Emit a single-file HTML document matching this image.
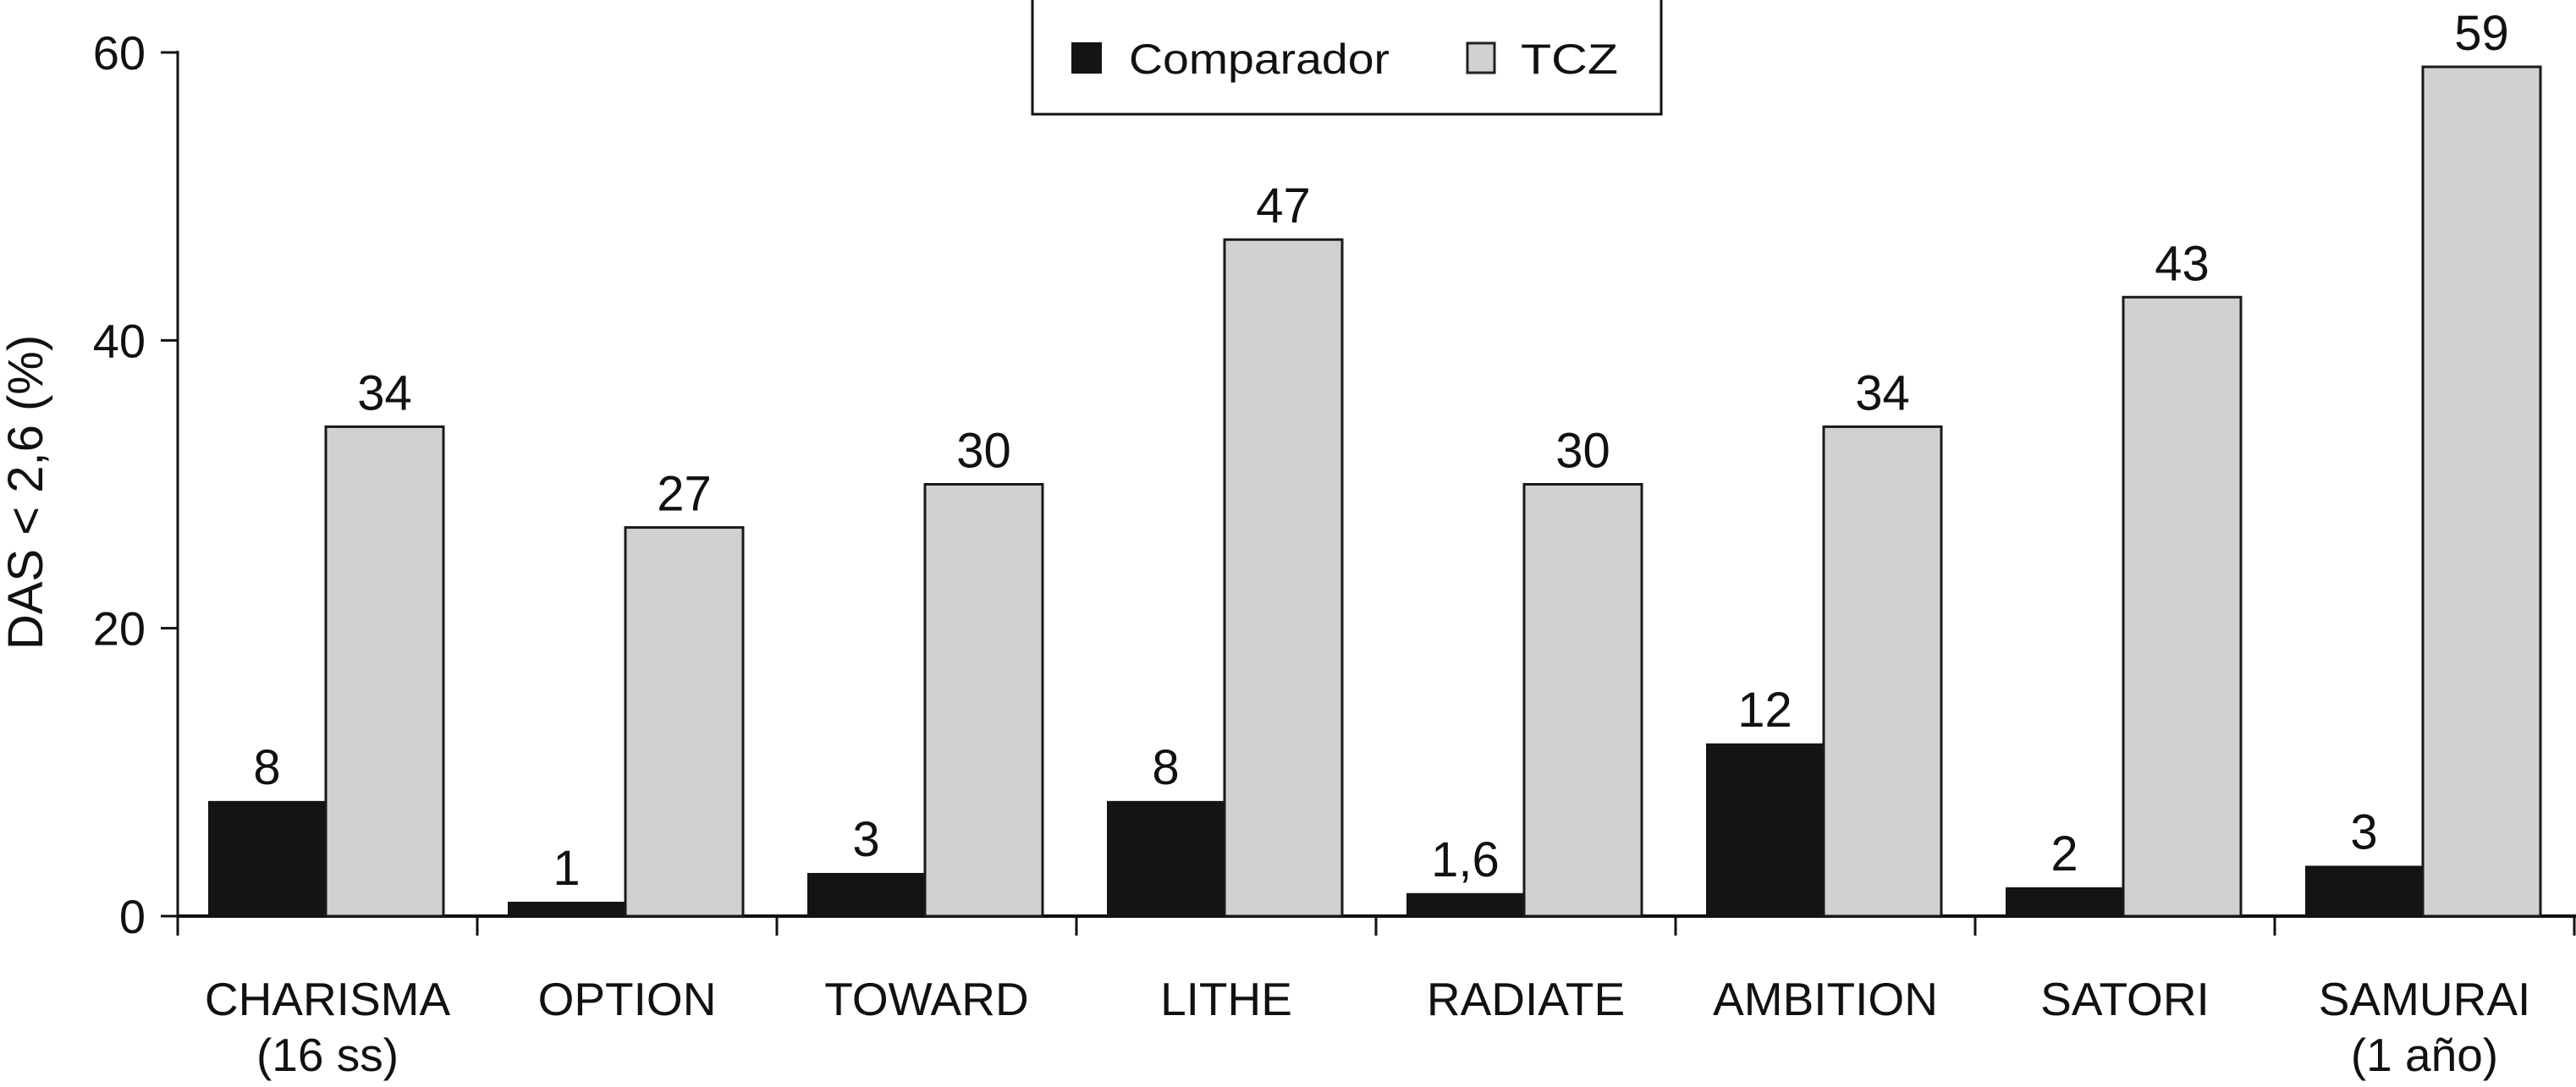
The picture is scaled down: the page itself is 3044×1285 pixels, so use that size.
<!DOCTYPE html>
<html><head><meta charset="utf-8"><style>
html,body{margin:0;padding:0;background:#fff;}
svg{display:block;font-family:"Liberation Sans",Arial,sans-serif;}
</style></head><body>
<svg id="chart" width="3044" height="1285" viewBox="0 0 3044 1285" xmlns="http://www.w3.org/2000/svg">
<g id="axes"></g>
<g id="bars"></g>
<text transform="translate(50,582) rotate(-90)" text-anchor="middle" font-size="58" fill="#111">DAS &lt; 2,6 (%)</text>
<g>
<rect x="1220" y="-2" width="743" height="137" fill="#fff" stroke="#111" stroke-width="3"/>
<rect x="1266" y="50" width="36" height="37" fill="#141414"/>
<text x="1334" y="87" font-size="50" fill="#111" textLength="308" lengthAdjust="spacingAndGlyphs">Comparador</text>
<rect x="1734" y="51" width="32" height="35" fill="#d1d1d1" stroke="#222" stroke-width="3"/>
<text x="1797" y="87" font-size="50" fill="#111" textLength="115" lengthAdjust="spacingAndGlyphs">TCZ</text>
</g>
</svg>
<script>
const categories = ["CHARISMA|(16 ss)","OPTION","TOWARD","LITHE","RADIATE","AMBITION","SATORI","SAMURAI|(1 año)"];
const comparador = [8, 1, 3, 8, 1.6, 12, 2, 3.5];
const tcz = [34, 27, 30, 47, 30, 34, 43, 59];
const comparadorLabels = ["8","1","3","8","1,6","12","2","3"];
const tczLabels = ["34","27","30","47","30","34","43","59"];
const yTicks = [0, 20, 40, 60];

const NS = "http://www.w3.org/2000/svg";
const x0 = 210, groupW = 354, y0 = 1083, pxPerUnit = 1021/60;
const yScale = v => y0 - v * pxPerUnit;
const xGroup = i => x0 + i * groupW;
function mk(tag, attrs, parent){ const e = document.createElementNS(NS, tag); for (const k in attrs) e.setAttribute(k, attrs[k]); parent.appendChild(e); return e; }
const axes = document.getElementById('axes'), bars = document.getElementById('bars');

const yAxis = mk('line', {x1:x0, y1:yScale(60)-2, x2:x0, y2:1106, stroke:'#111','stroke-width':3}, axes);


const xAxis = mk('line', {x1:x0, y1:y0, x2:xGroup(categories.length)+2, y2:y0, stroke:'#111','stroke-width':4}, axes);



yTicks.forEach(t => {
  const y = yScale(t);
  const tk = mk('line', {x1:190, y1:y, x2:x0, y2:y, stroke:'#111','stroke-width':3}, axes);
  
  
  const lb = mk('text', {x:172, y:y+20, 'text-anchor':'end','font-size':56, fill:'#111'}, axes);
  lb.textContent = t;
  
  
});

categories.forEach((c, i) => {
  const gx = xGroup(i);
  const tk = mk('line', {x1:gx+groupW, y1:y0, x2:gx+groupW, y2:1106, stroke:'#111','stroke-width':3}, axes);
  
  
  const lines = c.split('|');
  const lb = mk('text', {x:gx+groupW/2, y:1200, 'text-anchor':'middle','font-size':55, fill:'#111'}, axes);
  
  
  lines.forEach((ln, j) => {
    const ts = mk('tspan', {x:gx+groupW/2, dy: j===0 ? 0 : 66}, lb);
    ts.textContent = ln;
  });

  const bx = gx + 36, bw = 139;
  const b1 = mk('rect', {x:bx, y:yScale(comparador[i]), width:bw, height:y0-yScale(comparador[i]), fill:'#141414'}, bars);
  
  
  const b2 = mk('rect', {x:bx+bw, y:yScale(tcz[i]), width:bw, height:y0-yScale(tcz[i]), fill:'#d1d1d1', stroke:'#1a1a1a','stroke-width':3}, bars);
  
  

  const v1 = mk('text', {x:bx+bw/2, y:yScale(comparador[i])-20, 'text-anchor':'middle','font-size':58, fill:'#111'}, bars);
  v1.textContent = comparadorLabels[i];
  
  
  const v2 = mk('text', {x:bx+bw*1.5, y:yScale(tcz[i])-20, 'text-anchor':'middle','font-size':58, fill:'#111'}, bars);
  v2.textContent = tczLabels[i];
  
  
});
</script>
</body></html>
